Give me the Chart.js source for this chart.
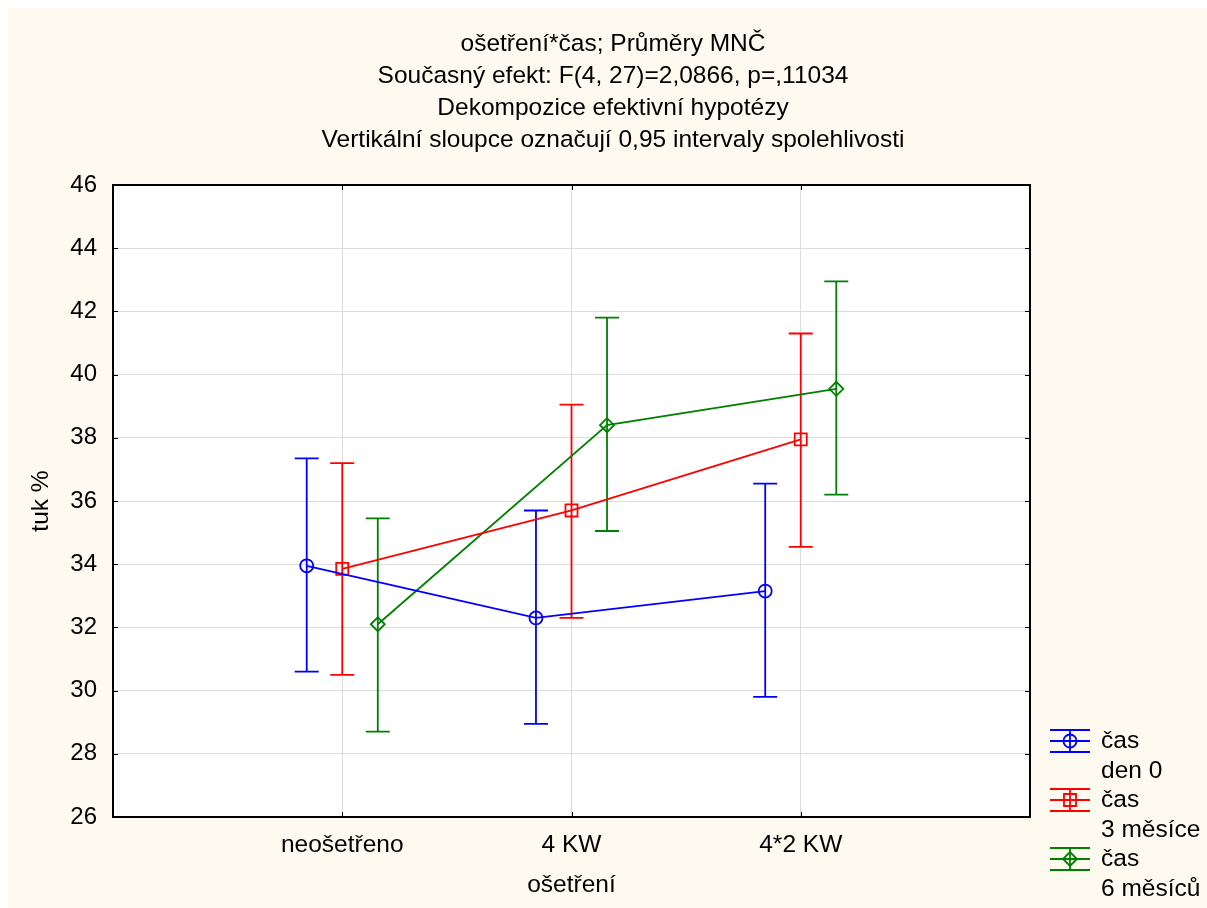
<!DOCTYPE html>
<html>
<head>
<meta charset="utf-8">
<script src="https://cdn.jsdelivr.net/npm/chart.js@4"></script>
<style>
  body { margin: 0; background: #fff; }
  #wrap { position: absolute; left: 8px; top: 8px; width: 1199px; height: 900px; background: #fffaf0; }
</style>
</head>
<body>
<div id="wrap"><canvas id="graf"></canvas></div>
<script>
// kategorie a hodnoty
const kategorie = ['neošetřeno', '4 KW', '4*2 KW'];
const nazvy = [['čas', 'den 0'], ['čas', '3 měsíce'], ['čas', '6 měsíců']];
const barvy = ['#0000ff', '#ff0000', '#008000'];
const znacky = ['circle', 'rect', 'rectRot'];
const posun = [-0.155, 0, 0.155];

const prumer0 = [33.95, 32.3, 33.15];
const dolni0 = [30.6, 28.95, 29.8];
const horni0 = [37.35, 35.7, 36.55];

const prumer3 = [33.85, 35.7, 37.95];
const dolni3 = [30.5, 32.3, 34.55];
const horni3 = [37.2, 39.05, 41.3];

const prumer6 = [32.1, 38.4, 39.55];
const dolni6 = [28.7, 35.05, 36.2];
const horni6 = [35.45, 41.8, 42.95];

const yTicks = [26, 28, 30, 32, 34, 36, 38, 40, 42, 44, 46];

const prumery = [prumer0, prumer3, prumer6];
const dolni = [dolni0, dolni3, dolni6];
const horni = [horni0, horni3, horni6];

const titulek = [
  'ošetření*čas; Průměry MNČ',
  'Současný efekt: F(4, 27)=2,0866, p=,11034',
  'Dekompozice efektivní hypotézy',
  'Vertikální sloupce označují 0,95 intervaly spolehlivosti'
];

const FONT = '"Liberation Sans", Arial, sans-serif';

function kresliZnacku(ctx, styl, x, y, barva) {
  ctx.save();
  ctx.strokeStyle = barva;
  ctx.lineWidth = 1.8;
  ctx.beginPath();
  if (styl === 'circle') {
    ctx.arc(x, y, 6.5, 0, Math.PI * 2);
  } else if (styl === 'rect') {
    ctx.rect(x - 6, y - 6, 12, 12);
  } else {
    ctx.moveTo(x - 7, y); ctx.lineTo(x, y - 7); ctx.lineTo(x + 7, y); ctx.lineTo(x, y + 7); ctx.closePath();
  }
  ctx.stroke();
  ctx.restore();
}

const doplnky = {
  id: 'doplnky',
  beforeDraw(chart) {
    const { ctx, chartArea: a } = chart;
    ctx.save();
    ctx.fillStyle = '#fff';
    ctx.fillRect(a.left, a.top, a.right - a.left, a.bottom - a.top);
    ctx.restore();
  },
  beforeDatasetsDraw(chart) {
    const { ctx, scales: { x, y } } = chart;
    ctx.save();
    ctx.lineWidth = 1.8;
    prumery.forEach((s, i) => {
      ctx.strokeStyle = barvy[i];
      s.forEach((v, j) => {
        const px = x.getPixelForValue(j + 1 + posun[i]);
        const y1 = y.getPixelForValue(dolni[i][j]);
        const y2 = y.getPixelForValue(horni[i][j]);
        ctx.beginPath();
        ctx.moveTo(px, y1); ctx.lineTo(px, y2);
        ctx.moveTo(px - 12, y1); ctx.lineTo(px + 12, y1);
        ctx.moveTo(px - 12, y2); ctx.lineTo(px + 12, y2);
        ctx.stroke();
      });
    });
    ctx.restore();
  },
  afterDraw(chart) {
    const { ctx, chartArea: a, scales: { x, y } } = chart;
    ctx.save();
    // rámeček a vnitřní značky os
    ctx.strokeStyle = '#000';
    ctx.lineWidth = 2;
    ctx.strokeRect(a.left, a.top, a.right - a.left, a.bottom - a.top);
    ctx.lineWidth = 1;
    ctx.beginPath();
    yTicks.forEach(t => {
      const py = Math.round(y.getPixelForValue(t)) + 0.5;
      ctx.moveTo(a.left, py); ctx.lineTo(a.left + 5, py);
      ctx.moveTo(a.right, py); ctx.lineTo(a.right - 5, py);
    });
    kategorie.forEach((k, j) => {
      const px = Math.round(x.getPixelForValue(j + 1)) + 0.5;
      ctx.moveTo(px, a.bottom); ctx.lineTo(px, a.bottom - 5);
      ctx.moveTo(px, a.top); ctx.lineTo(px, a.top + 5);
    });
    ctx.stroke();

    // titulek
    ctx.fillStyle = '#000';
    ctx.font = '24.5px ' + FONT;
    ctx.textAlign = 'center';
    ctx.textBaseline = 'middle';
    titulek.forEach((t, i) => ctx.fillText(t, 605, 36 + i * 32));

    // legenda
    ctx.font = '24.5px ' + FONT;
    ctx.textAlign = 'left';
    nazvy.forEach((n, i) => {
      const cy = 733 + i * 59;
      const cx = 1062;
      ctx.strokeStyle = barvy[i];
      ctx.lineWidth = 1.8;
      ctx.beginPath();
      [-11, 0, 11].forEach(d => { ctx.moveTo(cx - 20, cy + d); ctx.lineTo(cx + 20, cy + d); });
      ctx.moveTo(cx, cy - 11); ctx.lineTo(cx, cy + 11);
      ctx.stroke();
      kresliZnacku(ctx, znacky[i], cx, cy, barvy[i]);
      ctx.fillStyle = '#000';
      ctx.fillText(n[0], 1093, cy);
      ctx.fillText(n[1], 1093, cy + 30);
    });
    ctx.restore();
  }
};

const datasets = prumery.map((s, i) => ({
  label: nazvy[i].join(' '),
  data: s.map((v, j) => ({ x: j + 1 + posun[i], y: v })),
  borderColor: barvy[i],
  borderWidth: 1.8,
  pointStyle: znacky[i],
  pointRadius: znacky[i] === 'rect' ? 8.5 : (znacky[i] === 'rectRot' ? 7 : 6.5),
  pointBorderColor: barvy[i],
  pointBorderWidth: 1.8,
  pointBackgroundColor: 'rgba(0,0,0,0)',
  fill: false,
  tension: 0
}));

new Chart(document.getElementById('graf'), {
  type: 'line',
  data: { datasets },
  plugins: [doplnky],
  options: {
    responsive: true,
    maintainAspectRatio: false,
    animation: false,
    layout: { padding: { top: 177, right: 177, left: 0, bottom: 0 } },
    plugins: { legend: { display: false }, tooltip: { enabled: false } },
    scales: {
      x: {
        type: 'linear',
        min: 0, max: 4,
        afterBuildTicks(scale) { scale.ticks = [0, 1, 2, 3, 4].map(v => ({ value: v })); },
        afterFit(scale) { scale.height = 91; },
        ticks: {
          padding: 14,
          color: '#000',
          font: { family: FONT, size: 24.5 },
          callback: v => kategorie[v - 1] || ''
        },
        grid: { color: '#dcdcdc', drawTicks: false },
        border: { display: false },
        title: { display: true, text: 'ošetření', color: '#000', font: { family: FONT, size: 24.5 }, padding: { top: 0, bottom: 8 } }
      },
      y: {
        min: 26, max: 46,
        afterBuildTicks(scale) { scale.ticks = yTicks.map(v => ({ value: v })); },
        afterFit(scale) { scale.width = 105; },
        ticks: {
          padding: 16,
          color: '#000',
          font: { family: FONT, size: 24 }
        },
        grid: { color: '#dcdcdc', drawTicks: false },
        border: { display: false },
        title: { display: true, text: 'tuk %', color: '#000', font: { family: FONT, size: 24.5 }, padding: { bottom: 0, top: 19 } }
      }
    }
  }
});
</script>
</body>
</html>
